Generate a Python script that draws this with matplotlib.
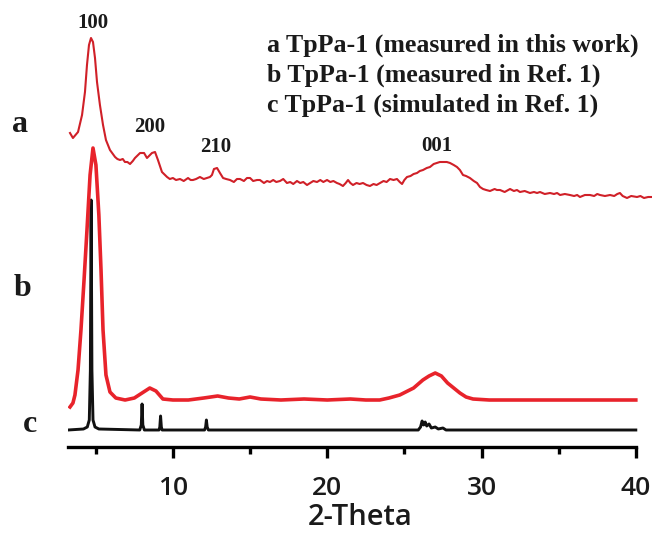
import matplotlib
matplotlib.use("Agg")
import matplotlib.pyplot as plt
import numpy as np

# --- a: TpPa-1 measured in this work (2-theta, intensity a.u.) ---
a_theta = [3.33, 3.52, 3.85, 4.11, 4.30, 4.43, 4.56, 4.69, 4.82, 4.95, 5.08, 5.27,
           5.47, 5.66, 5.92, 6.25, 6.4, 6.57, 6.75, 6.89, 7.05, 7.22, 7.4, 7.54,
           7.87, 8.13, 8.32, 8.64, 8.84, 9.03, 9.29, 9.62, 9.8, 10.0, 10.2, 10.46,
           10.7, 10.98, 11.15, 11.30, 11.5, 11.75, 12.0, 12.21, 12.4, 12.53, 12.66,
           12.86, 13.05, 13.25, 13.45, 13.70, 13.95, 14.15, 14.35, 14.6, 14.8, 15.0,
           15.2, 15.45, 15.64, 15.9, 16.1, 16.29, 16.5, 16.7, 16.94, 17.15, 17.39,
           17.6, 17.8, 18.04, 18.25, 18.45, 18.69, 18.9, 19.1, 19.34, 19.55, 19.75,
           19.99, 20.2, 20.4, 20.63, 20.8, 21.02, 21.2, 21.35, 21.5, 21.67, 21.9,
           22.1, 22.32, 22.55, 22.77, 23.0, 23.2, 23.42, 23.65, 23.85, 24.07, 24.3,
           24.52, 24.7, 24.85, 25.0, 25.17, 25.4, 25.6, 25.82, 26.0, 26.21, 26.45,
           26.66, 26.9, 27.11, 27.3, 27.50, 27.75, 27.96, 28.2, 28.41, 28.6, 28.80,
           29.0, 29.25, 29.5, 29.71, 29.9, 30.10, 30.3, 30.55, 30.85, 31.0, 31.20,
           31.5, 31.85, 32.1, 32.3, 32.49, 32.8, 33.14, 33.4, 33.6, 33.79, 34.1,
           34.44, 34.7, 34.9, 35.09, 35.4, 35.73, 36.0, 36.2, 36.38, 36.7, 37.03,
           37.3, 37.5, 37.68, 38.0, 38.33, 38.6, 38.8, 38.97, 39.15, 39.43, 39.7,
           40.08, 40.3, 40.53, 40.8, 41.05]
a_int = [67, 62, 68, 85, 108, 135, 155, 162, 158, 142, 118, 95,
         75, 60, 50, 43, 41, 40, 41, 38, 38, 36, 39, 42,
         47, 47, 42, 47, 48, 40, 28, 23, 21, 22, 20, 21,
         19, 22, 20, 20, 21, 23, 21, 22, 23, 25, 31,
         32, 27, 22, 21, 20, 18, 21, 21, 19, 22, 22,
         19, 20, 20, 17, 19, 18, 20, 18, 19, 21, 17,
         18, 16, 19, 17, 18, 15, 17, 19, 18, 20, 18,
         20, 18, 19, 17, 16, 14, 17, 20, 17, 15, 17,
         16, 17, 15, 14, 16, 15, 17, 19, 18, 21, 20,
         21, 18, 16, 20, 23, 24, 26, 27, 29, 30, 32,
         33, 36, 37, 38, 38, 38, 37, 35, 33, 30, 25,
         24, 22, 19, 17, 13, 11, 10, 9, 11, 10, 10,
         8, 11, 9, 10, 8, 9, 7, 8, 7, 8, 6,
         7, 6, 7, 5, 6, 5, 4, 5, 3, 5, 5,
         4, 6, 5, 4, 5, 4, 6, 7, 4, 2, 4,
         3, 4, 2, 3, 3]

# --- b: TpPa-1 measured in Ref. 1 ---
b_theta = [3.33, 3.52, 3.65, 3.85, 4.04, 4.24, 4.43, 4.63, 4.82, 5.01, 5.2, 5.34,
           5.47, 5.66, 5.92, 6.3, 6.9, 7.5, 8.0, 8.5, 8.9, 9.35, 10.0, 11.0, 12.0,
           12.9, 13.6, 14.3, 15.0, 15.7, 17.0, 18.5, 20.0, 21.5, 22.5, 23.4, 24.0,
           24.7, 25.6, 26.2, 26.6, 27.0, 27.4, 27.8, 28.2, 28.6, 29.0, 29.45, 30.5,
           32.0, 34.0, 36.0, 38.0, 40.0]
b_int = [-7, -3, 5, 30, 70, 120, 170, 225, 252, 235, 185, 130,
         70, 25, 8, 2, 0, 2, 7, 12, 9, 1, 0, 0, 2,
         4, 2, 1, 3, 1, 0, 1, 0, 1, 0, 0, 2,
         5, 12, 20, 24, 27, 24, 17, 12, 7, 3, 1, 0,
         0, 0, 0, 0, 0]

# --- c: TpPa-1 simulated in Ref. 1 ---
c_theta = [3.2, 4.2, 4.45, 4.58, 4.65, 4.70, 4.75, 4.82, 4.95, 5.2, 7.85, 7.95,
           8.0, 8.05, 8.15, 9.1, 9.15, 9.2, 9.25, 9.3, 12.05, 12.12, 12.17, 12.22,
           12.3, 25.9, 26.05, 26.15, 26.25, 26.35, 26.45, 26.6, 26.75, 27.0, 27.2,
           27.5, 27.7, 40.0]
c_int = [0, 1, 3, 10, 60, 230, 60, 10, 3, 1, 0, 5,
         26, 5, 0, 0, 3, 14, 3, 0, 0, 3, 10, 3,
         0, 0, 3, 9, 5, 8, 4, 6, 2, 3, 1,
         2, 0, 0]

hkl_labels = ["100", "200", "210", "001"]
hkl_theta = [4.82, 8.51, 12.79, 27.11]
hkl_y = [424, 320, 300, 301]

legend_lines = ["a TpPa-1 (measured in this work)",
                "b TpPa-1 (measured in Ref. 1)",
                "c TpPa-1 (simulated in Ref. 1)"]

xticks_major = [10, 20, 30, 40]
xticks_minor = [5, 15, 25, 35]

W, H = 652, 535
fig = plt.figure(figsize=(W / 100, H / 100), dpi=100)
ax = fig.add_axes([68 / W, (H - 447) / H, (W - 68) / W, 447 / H])

# stacked offsets for the three patterns
off_a, off_b, off_c = 247, 47, 17
ax.plot(c_theta, np.array(c_int) + off_c, color="#111111", lw=2.1)
ax.plot(b_theta, np.array(b_int) + off_b, color="#e8232b", lw=2.6)
ax.plot(a_theta, np.array(a_int) + off_a, color="#d02028", lw=1.5)

serif = "Liberation Serif"
txt_col = "#1a1a1a"
for lab, tx, ty in zip(hkl_labels, hkl_theta, hkl_y):
    ax.text(tx, ty, lab, ha="center", va="center", fontsize=15,
            fontweight="bold", family=serif, color=txt_col)

ax.set_xlim(3.2, 41.05)
ax.set_ylim(0, 447)
for s in ["left", "right", "top"]:
    ax.spines[s].set_visible(False)
ax.spines["bottom"].set_bounds(3.2, 40)
ax.spines["bottom"].set_linewidth(2.4)
ax.set_yticks([])
ax.set_xticks(xticks_major)
ax.set_xticks(xticks_minor, minor=True)
ax.tick_params(axis="x", which="major", direction="out", length=8, width=2.4,
               pad=13, labelsize=19)
ax.tick_params(axis="x", which="minor", direction="out", length=5, width=2.4)
for t in ax.get_xticklabels():
    t.set_family("Open Sans")
    t.set_fontweight("semibold")
    t.set_color(txt_col)
ax.set_xlabel("2-Theta", family="Open Sans", fontweight="semibold", fontsize=21,
              color=txt_col, labelpad=1)

# legend text block
for i, line in enumerate(legend_lines):
    fig.text(267 / W, 1 - (45 + 30 * i) / H, line, ha="left", va="center",
             fontsize=18.6, fontweight="bold", family=serif, color=txt_col)

# curve letters on the left
for lab, px, py in [("a", 20, 125), ("b", 23, 289), ("c", 30, 425)]:
    fig.text(px / W, 1 - py / H, lab, ha="center", va="center", fontsize=23,
             fontweight="bold", family=serif, color=txt_col)

fig.savefig("out.png", dpi=100)
